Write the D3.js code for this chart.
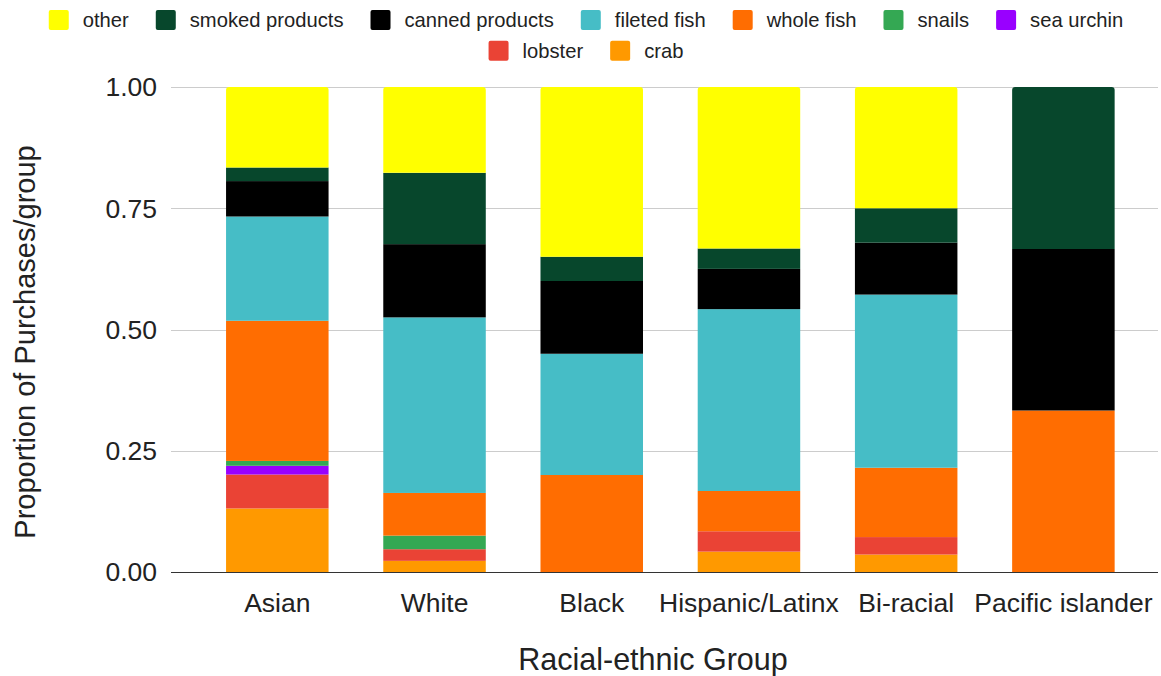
<!DOCTYPE html>
<html>
<head>
<meta charset="utf-8">
<script src="https://cdn.jsdelivr.net/npm/d3@7"></script>
<style>
  html, body { margin: 0; padding: 0; background: #fff; }
  svg { display: block; font-family: Arial, "Liberation Sans", sans-serif; }
</style>
</head>
<body>
<svg id="chart" width="1161" height="676"></svg>
<script>
// ---- data ----
const categories = ["Asian", "White", "Black", "Hispanic/Latinx", "Bi-racial", "Pacific islander"];
const seriesNames = ["crab", "lobster", "sea urchin", "snails", "whole fish", "fileted fish", "canned products", "smoked products", "other"];
const crab           = [0.131, 0.023, 0,     0.042, 0.036, 0];
const lobster        = [0.070, 0.024, 0,     0.042, 0.036, 0];
const seaUrchin      = [0.018, 0,     0,     0,     0,     0];
const snails         = [0.010, 0.028, 0,     0,     0,     0];
const wholeFish      = [0.289, 0.088, 0.200, 0.083, 0.143, 0.333];
const filetedFish    = [0.215, 0.362, 0.250, 0.375, 0.357, 0];
const cannedProducts = [0.073, 0.151, 0.150, 0.083, 0.107, 0.333];
const smokedProducts = [0.028, 0.147, 0.050, 0.042, 0.071, 0.334];
const other          = [0.166, 0.177, 0.350, 0.333, 0.250, 0];
const yTicks = [0, 0.25, 0.5, 0.75, 1];
const legendOrder = ["other", "smoked products", "canned products", "fileted fish", "whole fish", "snails", "sea urchin", "lobster", "crab"];
const colors = {
  "crab": "#ff9900", "lobster": "#ea4335", "sea urchin": "#9900ff", "snails": "#34a853",
  "whole fish": "#ff6d01", "fileted fish": "#46bdc6", "canned products": "#000000",
  "smoked products": "#07472c", "other": "#ffff00"
};
const seriesValues = [crab, lobster, seaUrchin, snails, wholeFish, filetedFish, cannedProducts, smokedProducts, other];

// ---- build table ----
const rows = categories.map((c, i) => {
  const r = { group: c };
  seriesNames.forEach((s, j) => r[s] = seriesValues[j][i]);
  return r;
});
const stack = d3.stack().keys(seriesNames)(rows);

const svg = d3.select("#chart");
const x = d3.scaleBand().domain(categories).range([198.7, 1142]).paddingInner(0.348).paddingOuter(0.174);
const y = d3.scaleLinear().domain([0, 1]).range([572, 87]);

// gridlines
svg.append("g").selectAll("line").data(yTicks).join("line")
  .attr("x1", 171).attr("x2", 1158)
  .attr("y1", d => Math.round(y(d)) + 0.5).attr("y2", d => Math.round(y(d)) + 0.5)
  .attr("stroke", d => d === 0 ? "#333" : "#ccc").attr("stroke-width", 1);

// y tick labels
svg.append("g").selectAll("text").data(yTicks).join("text")
  .attr("x", 157).attr("y", d => y(d)).attr("dy", "0.35em")
  .attr("text-anchor", "end").attr("font-size", 26.5).attr("fill", "#222")
  .text(d => d3.format(".2f")(d));

// topmost segment index per group
const topIdx = categories.map((c, i) => {
  let t = -1;
  seriesNames.forEach((s, j) => { if (seriesValues[j][i] > 0) t = j; });
  return t;
});

function roundTopRect(x0, y0, w, h, r) {
  r = Math.min(r, h, w / 2);
  return `M${x0},${y0 + h}V${y0 + r}Q${x0},${y0} ${x0 + r},${y0}H${x0 + w - r}Q${x0 + w},${y0} ${x0 + w},${y0 + r}V${y0 + h}Z`;
}

// bars
stack.forEach((layer, j) => {
  const g = svg.append("g").attr("fill", colors[layer.key]);
  layer.forEach((d, i) => {
    const v = d[1] - d[0];
    if (v <= 0) return;
    const x0 = x(categories[i]);
    const w = x.bandwidth();
    const yTop = y(d[1]);
    const h = y(d[0]) - y(d[1]);
    if (topIdx[i] === j) {
      g.append("path").attr("d", roundTopRect(x0, yTop, w, h, 3));
    } else {
      g.append("rect").attr("x", x0).attr("y", yTop).attr("width", w).attr("height", h);
    }
  });
});

// x tick labels
svg.append("g").selectAll("text").data(categories).join("text")
  .attr("x", d => x(d) + x.bandwidth() / 2).attr("y", 612)
  .attr("text-anchor", "middle").attr("font-size", 26.5).attr("fill", "#222")
  .text(d => d);

// axis titles
svg.append("text").attr("x", 653).attr("y", 670).attr("text-anchor", "middle")
  .attr("font-size", 30.5).attr("fill", "#222").text("Racial-ethnic Group");
svg.append("text").attr("transform", "translate(35,342) rotate(-90)").attr("text-anchor", "middle")
  .attr("font-size", 29).attr("fill", "#222").text("Proportion of Purchases/group");

// legend
const legendRows = [legendOrder.slice(0, 7), legendOrder.slice(7)];
const rowY = [20, 50.7];
const legendCenter = 586;
legendRows.forEach((items, ri) => {
  const g = svg.append("g");
  let cx = 0;
  items.forEach((name, k) => {
    const item = g.append("g").attr("transform", `translate(${cx},0)`);
    item.append("rect").attr("x", 0).attr("y", rowY[ri] - 10).attr("width", 20).attr("height", 20)
      .attr("rx", 2).attr("fill", colors[name]);
    const t = item.append("text").attr("x", 34).attr("y", rowY[ri]).attr("dy", "0.35em")
      .attr("font-size", 20.2).attr("fill", "#222").text(name);
    const tw = t.node().getComputedTextLength();
    cx += 34 + tw + (k < items.length - 1 ? 27 : 0);
  });
  g.attr("transform", `translate(${legendCenter - cx / 2},0)`);
});
</script>
</body>
</html>
